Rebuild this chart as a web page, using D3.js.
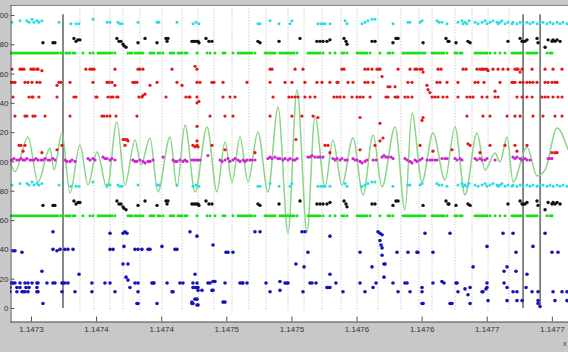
<!DOCTYPE html>
<html>
<head>
<meta charset="utf-8">
<script src="https://cdn.jsdelivr.net/npm/d3@7"></script>
<style>
  html, body { margin: 0; padding: 0; background: #c8c8c8; overflow: hidden; }
  svg { display: block; }
</style>
</head>
<body>
<div id="mainDiv"></div>
<script>
'use strict';

// x is given in 1e-6 above 1.1473 (tick labels are rounded to 4 places)
var xTickValues = [0, 50, 100, 150, 200, 250, 300, 350, 400];
var xTickLabels = ['1.1473', '1.1474', '1.1474', '1.1475', '1.1475', '1.1476', '1.1476', '1.1477', '1.1477'];
var yTickValues = [0, 20, 40, 60, 80, 100, 120, 140, 160, 180, 200];

var dottedMarks = [37.6, 48.4, 60.7, 70.7, 83.7, 100.6, 116, 128.3, 140.5, 154.4, 167.4, 180.5, 197.4,
  209.7, 223.5, 238.1, 250.4, 266.5, 284.2, 298, 308, 325.6, 338.7, 351, 367.1];
var solidMarks = [24.6, 377.9, 391];

// cyan / black / green are plotted a second time, lower by this amount
var lowerBandShift = 111;

var cyanPts = [[-14.6,195],[-8.4,196],[-3.1,196],[-1.5,195],[0.8,197],[2.3,195],[4.6,196],[6.1,195],[8.4,196],
  [21.5,195],[30.7,194],[34.6,194],[36.9,194],[47.6,197],[58.4,195],[60.7,195],[66.8,195],[68.4,194],[69.9,194],
  [82.2,195],[96.8,195],[98.3,195],[112.1,195],[124.4,194],[126.7,195],[129,194],[174.3,194],[175.9,194],
  [183.6,196],[190.5,194],[198.9,194],[200.4,196],[220.4,194],[222.7,194],[224.3,194],[225.8,194],[229.6,194],
  [241.2,196],[242.7,194],[254.2,194],[256.5,195],[258.8,196],[261.9,197],[264.2,197],[278,194],[289.5,195],
  [291.1,195],[298.8,195],[300.3,196],[311.8,196],[313.3,195],[315.6,195],[319.5,194],[327.9,195],[331,196],
  [331.8,194],[333.3,195],[334.8,194],[336.4,196],[341,195],[343.3,194],[346.4,195],[348.7,196],[350.2,194],
  [352.5,195],[354.8,196],[357.9,195],[358.7,194],[360.2,195],[361.7,196],[364,194],[366.3,195],[369.4,194],
  [370.2,195],[373.2,194],[375.6,195],[377.9,194],[380.9,195],[383.2,194],[385.5,195],[388.6,194],[390.9,195],
  [393.2,195],[396.3,194],[398.6,195],[400.9,194],[404,195],[406.3,194],[408.6,195],[411.6,194]];

var blackPts = [[9.2,181],[16.9,181],[18.4,181],[33,184],[34.6,182],[36.1,183],[37.6,183],[66,184],[67.6,182],
  [69.1,182],[70.7,180],[71.4,179],[73,178],[82.2,181],[87.6,184],[96.8,181],[103.7,184],[105.2,184],[104.5,182],
  [123.6,182],[125.2,182],[126.7,182],[128.3,182],[129,181],[134.4,184],[136.7,182],[139,182],[174.3,182],
  [175.9,181],[190.5,182],[206.6,184],[219.6,182],[222,182],[224.3,182],[227.3,182],[229.6,183],[240.4,184],
  [241.9,182],[242.7,180],[261.9,182],[264.2,182],[278,181],[280.3,184],[281.9,184],[301.1,181],[318.7,184],
  [320.3,182],[321,182],[326.4,181],[335.6,182],[337.2,181],[366.3,182],[375.6,184],[377.1,182],[377.9,182],
  [379.4,182],[380.9,183],[388.6,184],[389.4,181],[394.8,178],[397.1,183],[400.1,182],[400.9,183],[402.4,182],
  [404,183],[406.3,182]];

var greenLevel = 174;
var greenX = [-16.1,-14.6,-13.1,-11.5,-10,-8.4,-6.9,-5.4,-3.8,-2.3,-0.8,0.8,2.3,3.8,5.4,6.9,8.4,10,11.5,13.1,
  14.6,16.1,17.7,19.2,20.7,23,24.6,26.9,28.4,30,32.3,33.8,39.9,45.3,47.6,51.5,53,54.5,56.1,57.6,59.1,60.7,62.2,
  64.5,74.5,76,77.6,79.9,81.4,82.9,84.5,86,91.4,92.9,94.5,97.5,99.1,101.4,106.8,108.3,109.8,112.9,114.4,116,
  118.3,119.8,127.5,135.2,137.5,141.3,147.5,149,155.1,159,160.5,162,163.6,165.1,166.7,168.2,169.7,172,179.7,
  181.2,182.8,184.3,185.9,187.4,191.2,192.8,194.3,195.8,197.4,198.9,200.4,202,204.3,212.7,214.3,215.8,217.3,
  218.9,220.4,222,224.3,229.6,233.5,238.8,240.4,242.7,250.4,251.9,253.4,255,256.5,258,260.4,268,274.2,275.7,
  278,285.7,287.2,288.8,290.3,291.8,293.4,294.9,296.4,298,299.5,301.1,302.6,308,309.5,311,312.6,314.1,315.6,
  317.2,319.5,325.6,327.2,329.5,331,341,342.5,344.1,345.6,347.1,348.7,350.2,352.5,356.4,360.2,364,369.4,370.9,
  372.5,374,375.6,377.1,380.9,382.5,384,385.5,387.1,388.6,396.3,398.6,400.1];

var redPts = [
  [-14.6,163],[-8.4,163],[-6.9,163],[-5.4,163],[0,163],[1.5,163],[2.3,163],[4.6,163],[5.4,163],[8.4,162],
  [42.2,163],[45.3,163],[46.8,163],[48.4,163],[64.5,163],[82.2,163],[83.7,163],[86,163],[108.3,163],[127.5,163],
  [126,165],[183.6,163],[185.1,163],[202.8,163],[208.9,163],[238.8,163],[240.4,163],[256.5,163],[258.8,163],
  [261.9,163],[265.7,163],[267.3,163],[269.6,158],[268,163],[281.9,163],[291.1,163],[294.9,163],[296.4,163],
  [298.8,163],[300.3,163],[301.1,161],[312.6,163],[314.9,163],[331.8,163],[334.1,163],[342.5,163],[344.8,163],
  [346.4,163],[347.1,163],[348.7,163],[350.2,163],[351,162],[354.8,163],[358.7,163],[362.5,163],[366.3,163],
  [371.7,163],[373.2,163],[374,163],[375.6,161],[377.1,163],[384.8,163],[394.8,163],[400.9,163],[407.8,163],
  [-15.4,154],[-13.8,154],[-12.3,154],[-4.6,154],[-2.3,154],[0.8,154],[4.6,154],[6.9,154],[20,152],[21.5,154],
  [23,154],[30,154],[47.6,154],[58.4,154],[59.9,154],[62.2,154],[64.5,152],[78.3,154],[79.9,154],[81.4,154],
  [91.4,152],[96.8,154],[112.1,154],[116,152],[127.5,154],[129.8,154],[139,154],[140.5,154],[147.5,154],
  [165.9,154],[183.6,154],[195.1,154],[200.4,154],[210.4,154],[219.6,154],[223.5,154],[229.6,154],[235,154],
  [235.8,154],[243.5,154],[247.3,154],[256.5,154],[258.8,154],[262.7,154],[289.5,154],[292.6,154],[304.1,152],
  [311.8,154],[314.1,154],[319.5,154],[327.9,154],[341,154],[343.3,154],[347.9,154],[360.2,154],[369.4,154],
  [370.2,154],[371.7,154],[375.6,154],[377.9,154],[380.9,154],[383.2,154],[385.5,154],[388.6,154],[394.8,154],
  [397.1,154],[400.1,154],[402.4,154],[404,154],[274.2,151],[275.7,151],[279.6,151],[304.9,149],[306.4,147],
  [356.4,148],
  [-13.8,144],[-1.5,144],[0.8,144],[1.5,144],[6.1,144],[20,144],[33,144],[34.6,144],[49.9,144],[50.7,144],
  [59.1,144],[61.4,144],[63,144],[66,144],[66.8,144],[82.9,144],[85.2,144],[86,145],[87.6,146],[103.7,144],
  [119,144],[121.3,144],[129,141],[122.1,144],[127.5,144],[127.5,140],[147.5,144],[152.8,144],[156.7,144],
  [185.9,144],[198.1,144],[200.4,144],[202.8,144],[205.1,144],[210.4,144],[214.3,144],[218.1,144],[232.7,144],
  [235,144],[237.3,144],[240.4,144],[246.5,144],[250.4,144],[252.7,144],[255,144],[260.4,144],[272.6,144],
  [274.2,144],[279.6,144],[281.1,144],[281.9,144],[287.2,144],[289.5,144],[292.6,144],[308,144],[310.3,144],
  [312.6,144],[316.4,144],[319.5,144],[327.9,144],[334.8,144],[337.2,144],[339.5,144],[346.4,144],[350.2,144],
  [356.4,144],[358.7,144],[373.2,144],[377.1,144],[380.9,144],[384.8,144],[392.4,144],[394.8,144],[397.1,144],
  [400.9,144],[404.7,144],[407.8,144],
  [-12.3,131],[-4.6,131],[-3.1,131],[1.5,131],[3.1,131],[10.8,131],[30,131],[54.5,131],[56.1,131],[58.4,131],
  [60.7,131],[65.3,131],[81.4,131],[137.5,131],[149,131],[155.1,131],[183.6,131],[200.4,131],[208.1,131],
  [216.6,131],[220.4,130],[252.7,130],[301.1,130],[334.8,131],[347.1,131],[352.5,131],[365.6,131],[371.7,131],
  [375.6,131],[385.5,131],[393.2,131],[402.4,131],[407.8,131],
  [-9.2,111],[-7.7,111],[-6.1,107],[-4.6,111],[8.4,106],[20,108],[23.8,111],[70.7,115],[72.2,115],[73.7,115],
  [74.5,114],[72.2,111],[124.4,111],[126,110],[127.5,111],[128.3,110],[127.5,114],[127.5,124],[139,111],
  [149,108],[172,106],[203.5,115],[225.8,111],[228.1,111],[229.6,106],[252.7,108],[264.2,111],[268,114],
  [268,126],[270.3,116],[300.3,128],[298.8,111],[308.7,107],[323.3,108],[335.6,112],[337.2,111],[344.8,106],
  [352.5,111],[364,111],[371.7,111],[373.2,107],[380.9,111],[400.1,106],[402.4,106],[404,106]];

var magentaPts = [[-16.1,101],[-14.6,101],[-13.1,102],[-10.8,101],[-9.2,101],[-7.7,102],[-6.1,101],[-4.6,101],
  [-3.1,102],[-0.8,101],[0.8,101],[2.3,101],[3.8,102],[5.4,101],[7.7,101],[9.2,101],[10.8,102],[13.1,101],
  [14.6,101],[16.9,102],[18.4,101],[26.1,101],[27.6,100],[30,100],[31.5,101],[33.8,100],[43.8,102],[45.3,101],
  [47.6,102],[49.2,101],[55.3,103],[56.8,102],[58.4,102],[60.7,101],[62.2,102],[64.5,101],[78.3,101],[79.9,100],
  [81.4,100],[83.7,101],[86,100],[87.6,99],[89.9,100],[91.4,100],[93.7,101],[101.4,103],[109.1,101],[110.6,100],
  [112.1,100],[114.4,101],[116.7,100],[118.3,101],[119.8,100],[123.6,101],[125.2,101],[126.7,101],[128.3,101],
  [129.8,101],[135.9,104],[145.2,101],[146.7,100],[149,101],[151.3,102],[152.8,100],[155.1,101],[156.7,102],
  [159,101],[160.5,100],[162.8,101],[164.4,100],[165.9,101],[168.2,101],[169.7,101],[172,101],[182,102],
  [183.6,103],[185.1,102],[187.4,103],[189.7,102],[191.2,102],[193.5,101],[195.1,102],[197.4,101],[198.9,102],
  [201.2,101],[202.8,101],[204.3,102],[212.7,103],[214.3,103],[215.8,104],[218.1,103],[220.4,103],[222,103],
  [224.3,103],[231.9,102],[233.5,101],[235,102],[237.3,101],[238.8,102],[241.2,101],[242.7,101],[247.3,102],
  [248.8,101],[250.4,101],[252.7,100],[254.2,99],[256.5,100],[258,101],[262.7,101],[265,101],[269.6,103],
  [271.1,104],[272.6,103],[274.2,103],[276.5,103],[278,102],[287.2,102],[288.8,101],[291.1,100],[292.6,99],
  [294.9,101],[296.4,100],[298.8,101],[300.3,102],[304.1,101],[306.4,101],[308,101],[310.3,101],[311.8,101],
  [315.6,102],[317.9,102],[319.5,102],[325.6,102],[327.2,101],[329.5,102],[331,101],[341,102],[342.5,101],
  [344.8,102],[346.4,101],[348.7,101],[350.2,102],[356.4,101],[370.2,103],[371.7,102],[373.2,103],[375.6,102],
  [377.1,101],[379.4,102],[380.9,101],[383.2,101],[397.1,102],[398.6,102],[400.1,102]];

var bluePts = [[16.9,52],[60.7,51],[70.7,51],[72.2,52],[73.7,51],[122.1,52],[71.4,42],[100.6,42],
  [-13.8,39],[-12.3,39],[-6.9,38],[16.9,40],[20,39],[22.3,40],[26.1,40],[28.4,40],[32.3,40],[60.7,40],[63,40],
  [79.9,40],[82.2,40],[85.2,40],[89.9,40],[91.4,40],[110.6,40],[112.1,40],[70.7,30],[74.5,30],[8.4,25],
  [36.9,23],[126,23],[73,21],[74.5,19],
  [-16.1,17],[-14.6,17],[-13.8,17],[-12.3,17],[-8.4,17],[-4.6,17],[-2.3,17],[0.8,17],[4.6,17],[5.4,17],
  [12.3,17],[16.9,17],[18.4,17],[23.8,17],[24.6,17],[26.1,17],[28.4,17],[46.8,17],[56.8,17],[60.7,17],
  [79.9,17],[82.2,17],[92.9,17],[93.7,17],[94.5,17],[104.5,17],[114.4,17],[116.7,17],[124.4,17],[127.5,17],
  [-16.1,14],[-10.8,14],[-8.4,14],[-3.8,14],[-1.5,14],[4.6,14],[76,14],[124.4,14],[127.5,14],
  [-16.1,11],[-10.8,11],[-6.9,11],[-6.1,11],[-4.6,11],[-2.3,11],[4.6,11],[5.4,11],[23.8,11],[33.8,11],
  [46.8,11],[64.5,11],[82.2,11],[108.3,11],[109.1,11],
  [127.5,6],[9.2,3],[81.4,3],[82.2,3],[96.8,3],[123.6,3],[124.4,3],[128.3,2],
  [127.5,49],[172,52],[175.9,52],[208.1,52],[210.4,52],[229.6,49],[266.5,52],[268,51],[269.6,50],
  [139.8,43],[268,46],[268.8,43],[269.6,41],[149.8,38],[151.3,38],[155.1,38],[212.7,38],[252.7,38],[269.6,36],
  [203.5,30],[209.7,28],[261.9,28],[271.1,30],[229.6,23],[271.1,21],
  [135.9,17],[137.5,17],[139.8,18],[141.3,18],[149,17],[160.5,17],[162,17],[162.8,17],[165.9,17],[180.5,17],
  [191.2,18],[195.1,17],[196.6,17],[197.4,17],[214.3,17],[215.8,17],[218.9,17],[234.2,17],[252.7,17],[265,17],
  [126,14],[128.3,14],[227.3,14],[228.1,14],[229.6,14],[262.7,14],
  [128.3,12],[131.3,12],[139,12],[139.8,12],[191.2,12],[183.6,11],[208.9,11],[239.6,11],[256.5,11],
  [126,6],[123.6,4],[147.5,4],[149,4],[127.5,2],
  [302.6,51],[321.8,51],[362.5,51],[370.2,51],[394.8,51],[350.2,42],[385.5,42],
  [281.1,38],[289.5,38],[296.4,38],[297.2,38],[308.7,38],[372.5,38],[400.1,38],[404.7,38],
  [271.9,30],[339.5,28],[365.6,28],[363.3,25],[372.5,25],[380.9,23],
  [278,17],[287.2,17],[288.8,17],[308.7,17],[315.6,18],[317.2,17],[326.4,17],[327.2,17],[350.2,17],[363.3,17],
  [300.3,14],[337.2,14],[350.2,14],[365.6,14],[380.2,14],[333.3,13],[349.4,13],
  [281.9,11],[291.1,11],[300.3,11],[327.9,11],[346.4,11],[347.1,11],[370.2,11],[373.2,11],[384.8,11],
  [389.4,11],[400.9,11],[407.8,11],[411.6,11],[335.6,9],
  [351,5],[365.6,5],[373.2,5],[377.1,5],[389.4,5],[402.4,5],[411.6,5],
  [300.3,3],[321.8,3],[323.3,3],[337.2,3],[389.4,3],[301.1,3],[390.9,1]];

var curvePts = [[-16.1,99.6],[-12.3,92.9],[-2.3,116.7],[5.4,86],[14.6,109.2],[17.7,94.2],[23.8,119.5],
  [30,78.5],[37.6,111.3],[43.8,84],[50.7,106.5],[58.4,81.9],[66,127],[72.2,84],[79.9,114.7],[84.5,97.6],
  [91.4,116],[97.5,79.2],[106.8,116.7],[112.1,82.6],[118.3,124.9],[126,79.2],[135.2,123.6],[142.8,79.2],
  [149,113.3],[154.4,86],[160.5,116.7],[166.7,86],[174.3,120.1],[182,79.2],[189.7,137.2],[197.4,51.2],
  [204.3,148.8],[212,51.9],[218.1,131.1],[225.8,82.6],[231.9,114.7],[238.8,84],[247.3,116],[255,77.1],
  [262.7,118.1],[269.6,82.6],[279.6,123.6],[287.2,66.9],[292.6,133.1],[300.3,86],[308.7,119.5],[317.9,87.4],
  [325.6,123.6],[333.3,77.1],[342.5,119.5],[348.7,94.2],[356.4,105.8],[360.2,99.6],[365.6,116.7],[370.2,86],
  [380.9,109.9],[388.6,90.1],[394.8,94.2],[404,122.9],[412.4,107.9]];

var chart = {};

chart.box = {left: 10, right: 568, top: 5, bottom: 322};
chart.font = '"Liberation Sans", Arial, sans-serif';

chart.x = d3.scaleLinear().domain([-16.1, 412.4]).range([chart.box.left, chart.box.right]);
chart.y = d3.scaleLinear().domain([-9.6, 206.8]).range([chart.box.bottom, chart.box.top]);

chart.dots = function(g, pts, color, r, shift)
{
    g.append('g').selectAll('circle')
        .data(pts)
        .enter()
        .append('circle')
        .attr('cx', function(d) { return chart.x(d[0]); })
        .attr('cy', function(d) { return chart.y(d[1] - shift); })
        .attr('r', r)
        .attr('fill', color);
}

chart.run = function()
{
    var b = chart.box;
    var svg = d3.select('#mainDiv').append('svg')
        .attr('width', 568)
        .attr('height', 352);

    svg.append('rect').attr('width', 568).attr('height', 352).attr('fill', '#c8c8c8');
    svg.append('rect')
        .attr('x', b.left).attr('y', b.top)
        .attr('width', b.right - b.left).attr('height', b.bottom - b.top)
        .attr('fill', '#ffffff');

    svg.append('clipPath').attr('id', 'plotClip')
        .append('rect')
        .attr('x', b.left).attr('y', b.top)
        .attr('width', b.right - b.left).attr('height', b.bottom - b.top);

    var plot = svg.append('g').attr('clip-path', 'url(#plotClip)');

    plot.append('g').selectAll('line')
        .data(dottedMarks)
        .enter()
        .append('line')
        .attr('x1', function(d) { return chart.x(d); })
        .attr('x2', function(d) { return chart.x(d); })
        .attr('y1', chart.y(-1))
        .attr('y2', chart.y(205))
        .attr('stroke', '#b4b4b4')
        .attr('stroke-width', 1)
        .attr('stroke-dasharray', '1,2');

    plot.append('g').selectAll('line')
        .data(solidMarks)
        .enter()
        .append('line')
        .attr('x1', function(d) { return chart.x(d); })
        .attr('x2', function(d) { return chart.x(d); })
        .attr('y1', chart.y(0))
        .attr('y2', chart.y(200.5))
        .attr('stroke', '#7c7c7c')
        .attr('stroke-width', 1.8);

    var line = d3.line()
        .x(function(d) { return chart.x(d[0]); })
        .y(function(d) { return chart.y(d[1]); })
        .curve(d3.curveMonotoneX);

    plot.append('path')
        .datum(curvePts)
        .attr('d', line)
        .attr('fill', 'none')
        .attr('stroke', '#88d688')
        .attr('stroke-width', 1.5);

    var greenPts = greenX.map(function(x) { return [x, greenLevel]; });

    [0, lowerBandShift].forEach(function(shift) {
        chart.dots(plot, cyanPts, '#2adce2', 1.5, shift);
        chart.dots(plot, greenPts, '#18e018', 1.5, shift);
        chart.dots(plot, blackPts, '#111111', 1.7, shift);
    });
    chart.dots(plot, redPts, '#e01818', 1.6, 0);
    chart.dots(plot, magentaPts, '#d024d0', 1.6, 0);
    chart.dots(plot, bluePts, '#1414b8', 1.8, 0);

    // top edge of the box
    svg.append('line')
        .attr('x1', b.left).attr('x2', b.right).attr('y1', b.top + 0.5).attr('y2', b.top + 0.5)
        .attr('stroke', '#888888');

    var yAxis = d3.axisLeft(chart.y)
        .tickValues(yTickValues)
        .tickFormat(d3.format('d'))
        .tickSizeInner(-4)
        .tickSizeOuter(0)
        .tickPadding(2);

    var xAxis = d3.axisBottom(chart.x)
        .tickValues(xTickValues)
        .tickFormat(function(d, i) { return xTickLabels[i]; })
        .tickSizeInner(-5)
        .tickSizeOuter(0)
        .tickPadding(5);

    var gy = svg.append('g')
        .attr('transform', 'translate(' + (b.left + 0.5) + ',0)')
        .call(yAxis);
    var gx = svg.append('g')
        .attr('transform', 'translate(0,' + (b.bottom - 0.5) + ')')
        .call(xAxis);

    [gy, gx].forEach(function(g) {
        g.select('.domain').attr('stroke', '#444444');
        g.selectAll('.tick line').attr('stroke', '#555555');
        g.selectAll('.tick text')
            .attr('fill', '#333333')
            .style('font-family', chart.font)
            .style('font-size', '8px');
    });

    svg.append('text')
        .attr('x', 563)
        .attr('y', 346)
        .attr('fill', '#444444')
        .style('font-family', chart.font)
        .style('font-size', '7px')
        .text('x');
}

window.onload = chart.run;
</script>
</body>
</html>
